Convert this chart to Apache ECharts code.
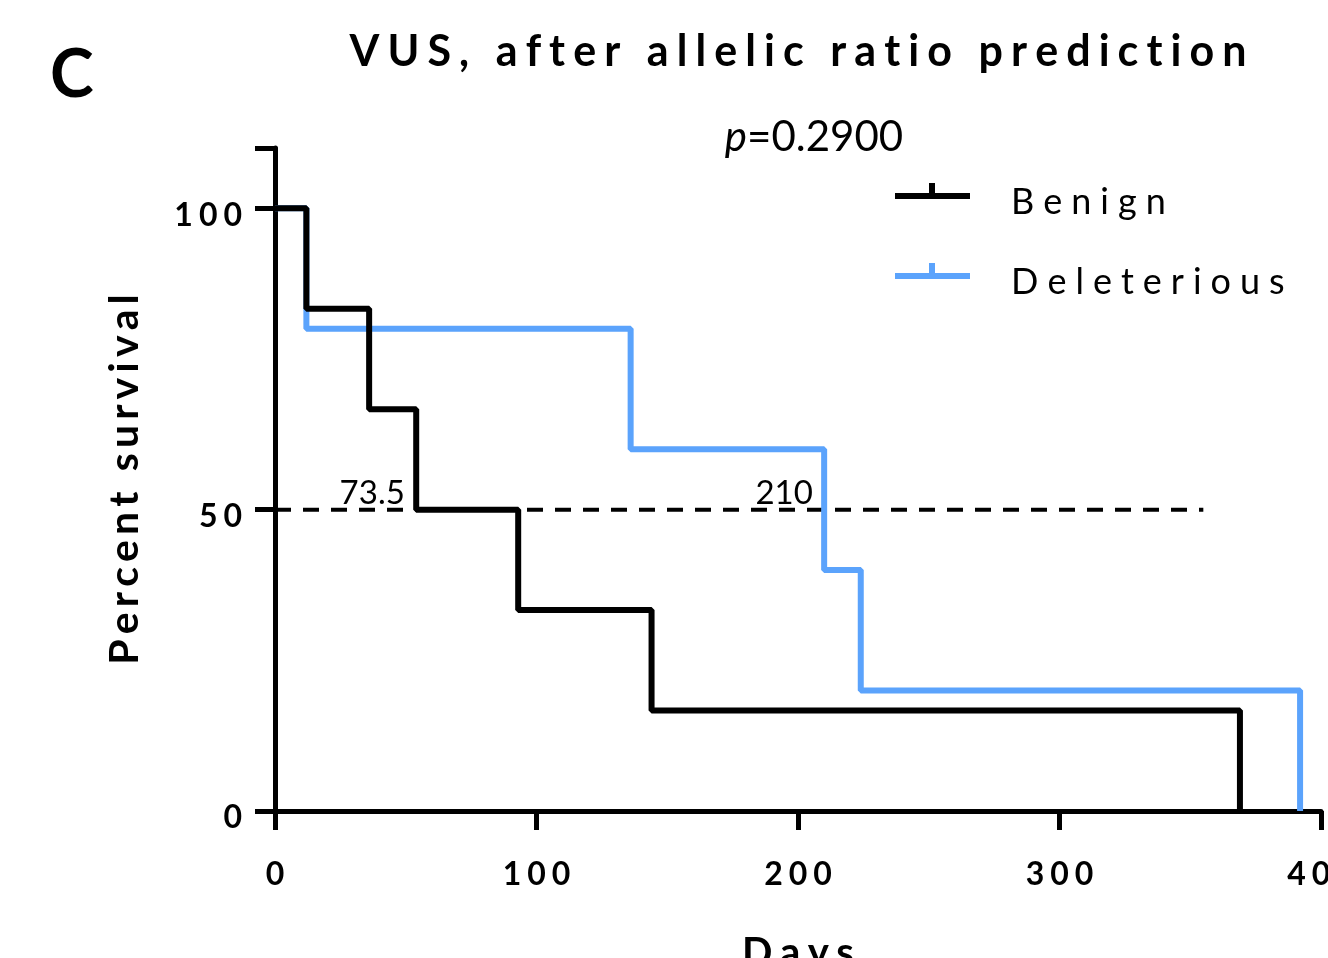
<!DOCTYPE html>
<html>
<head>
<meta charset="utf-8">
<script src="https://cdn.jsdelivr.net/npm/echarts@6/dist/echarts.min.js"></script>
<style>
  html, body { margin: 0; padding: 0; background: #fff; }
  #chart { width: 1328px; height: 958px; }
</style>
</head>
<body>
<div id="chart"></div>
<script>
// Kaplan-Meier steps
const benignDays = [0, 12, 36, 54, 93, 144, 369];
const benignSurvival = [100, 83.33, 66.67, 50, 33.33, 16.67, 0];
const deleteriousDays = [0, 12, 136, 210, 224, 392];
const deleteriousSurvival = [100, 80, 60, 40, 20, 0];

const medianLineDays = [0, 355];
const medianLevel = 50;
const medians = [73.5, 210];

const xTicks = [0, 100, 200, 300, 400];
const yTicks = [0, 50, 100];

const pValue = '0.2900';

const FONT = 'Lato';
const BLUE = '#5ba3fc';
const WIDE = '\u2009\u200a';

// spread letters out, like the letter-spaced labels of the original
function spaced(s, gap) {
  return s.split('').join(gap || '\u2009');
}

function pairs(xs, ys) {
  return xs.map((x, i) => [x, ys[i]]);
}

const chart = echarts.init(document.getElementById('chart'));

const option = {
  animation: false,
  backgroundColor: '#fff',
  grid: { left: 275, right: 7, top: 148, bottom: 147, containLabel: false, outerBoundsMode: 'none' },
  xAxis: {
    type: 'value',
    min: xTicks[0],
    max: xTicks[xTicks.length - 1],
    interval: 100,
    splitLine: { show: false },
    axisLine: { lineStyle: { color: '#000', width: 5 } },
    axisTick: { length: 19, lineStyle: { color: '#000', width: 5 } },
    axisLabel: {
      margin: 48, color: '#000', fontFamily: FONT, fontWeight: 'bold', fontSize: 32,
      formatter: v => spaced(String(v), WIDE)
    },
    name: spaced('Days', WIDE),
    nameLocation: 'middle',
    nameGap: 122,
    nameTextStyle: { color: '#000', fontFamily: FONT, fontWeight: 'bold', fontSize: 40 }
  },
  yAxis: {
    type: 'value',
    min: 0,
    max: 110,
    interval: 50,
    splitLine: { show: false },
    axisLine: { onZero: false, lineStyle: { color: '#000', width: 5 } },
    axisTick: { length: 20, lineStyle: { color: '#000', width: 5 } },
    axisLabel: {
      margin: 33, color: '#000', fontFamily: FONT, fontWeight: 'bold', fontSize: 32,
      verticalAlign: 'top', lineHeight: 14,
      formatter: v => yTicks.includes(v) ? spaced(String(v), WIDE) : ''
    },
    name: spaced('Percent survival'),
    nameLocation: 'middle',
    nameGap: 130,
    nameTextStyle: { color: '#000', fontFamily: FONT, fontWeight: 'bold', fontSize: 41 }
  },
  legend: {
    orient: 'vertical',
    left: 895,
    top: 183,
    padding: 0,
    itemWidth: 75,
    itemHeight: 16,
    itemGap: 43,
    symbolKeepAspect: false,
    data: [
      { name: 'Benign', icon: 'path://M0,10H75V16H0Z M34,0H40V10H34Z', itemStyle: { color: '#000' } },
      { name: 'Deleterious', icon: 'path://M0,10H75V16H0Z M34,0H40V10H34Z', itemStyle: { color: BLUE } }
    ],
    formatter: name => '{t|' + spaced(name, WIDE + '\u200a') + '}',
    textStyle: {
      color: '#000', fontFamily: FONT, fontSize: 36, padding: [0, 0, 0, 36],
      rich: { t: { color: '#000', fontFamily: FONT, fontSize: 36, padding: [22, 0, 0, 0] } }
    }
  },
  graphic: [
    {
      type: 'text', left: 50, top: 43,
      style: { text: 'C', fill: '#000', font: 'bold 66px ' + FONT }
    },
    {
      type: 'text', x: 798, y: 52,
      style: {
        text: spaced('VUS, after allelic ratio prediction', WIDE),
        fill: '#000', font: 'bold 43px ' + FONT,
        textAlign: 'center', textVerticalAlign: 'middle'
      }
    },
    {
      type: 'text', x: 814, y: 137,
      style: {
        text: '{i|p}=' + pValue,
        fill: '#000', font: '42px ' + FONT,
        textAlign: 'center', textVerticalAlign: 'middle',
        rich: { i: { fontStyle: 'italic', fontFamily: FONT, fontSize: 42 } }
      }
    }
  ],
  series: [
    {
      name: 'Deleterious',
      type: 'line',
      step: 'end',
      symbol: 'none',
      lineStyle: { color: BLUE, width: 6 },
      itemStyle: { color: BLUE },
      data: pairs(deleteriousDays, deleteriousSurvival),
      z: 2
    },
    {
      name: 'Benign',
      type: 'line',
      step: 'end',
      symbol: 'none',
      lineStyle: { color: '#000', width: 6 },
      itemStyle: { color: '#000' },
      data: pairs(benignDays, benignSurvival),
      z: 3
    },
    {
      name: 'median',
      type: 'line',
      symbol: 'none',
      silent: true,
      lineStyle: { color: '#000', width: 4, type: [16, 12] },
      data: medianLineDays.map(d => [d, medianLevel]),
      z: 1
    },
    {
      name: 'medianLabels',
      type: 'scatter',
      symbolSize: 0,
      silent: true,
      itemStyle: { opacity: 1 },
      data: medians.map((m, i) => ({
        value: [m, medianLevel],
        label: {
          show: true,
          position: 'top',
          distance: 0,
          offset: [i === 0 ? -95 : -40, 0],
          formatter: String(m),
          color: '#000',
          opacity: 1,
          fontFamily: FONT,
          fontSize: 33
        }
      })),
      z: 4
    }
  ]
};

chart.setOption(option);
</script>
</body>
</html>
